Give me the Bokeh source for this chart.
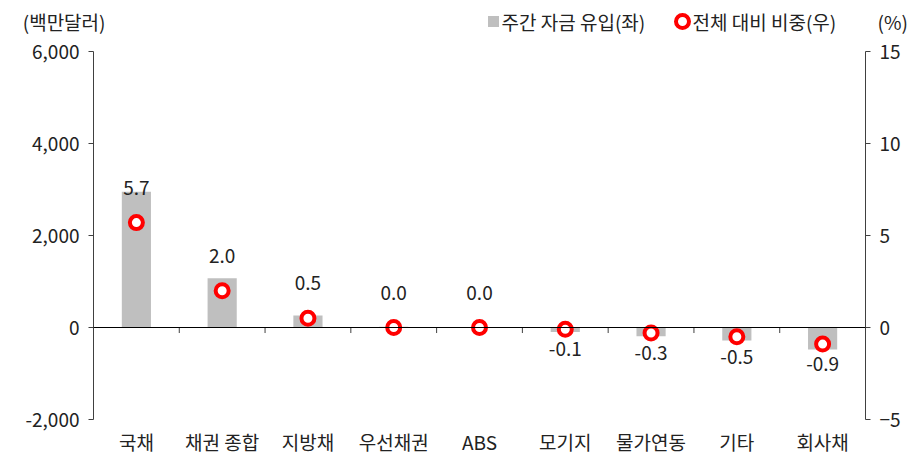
from bokeh.plotting import figure
from bokeh.models import (Range1d, LinearAxis, FixedTicker, NumeralTickFormatter, Span,
                          ColumnDataSource)
from bokeh.layouts import column
from bokeh.core.properties import value
from bokeh.embed import file_html
from bokeh.resources import INLINE

categories = ["국채", "채권 종합", "지방채", "우선채권", "ABS", "모기지", "물가연동", "기타", "회사채"]
flows = [2950, 1070, 262, 15, 5, -100, -190, -280, -480]
shares = [5.7, 2.0, 0.5, 0.0, 0.0, -0.1, -0.3, -0.5, -0.9]
left_ticks = [-2000, 0, 2000, 4000, 6000]
right_ticks = [-5, 0, 5, 10, 15]
series_names = ["주간 자금 유입(좌)", "전체 대비 비중(우)"]
left_unit = "(백만달러)"
right_unit = "(%)"

FONT = "Noto Sans CJK KR"
FS = "19px"
TXT = "#222222"
AX = "#404040"
GRAY = "#BFBFBF"
RED = "#FF0000"

n = len(categories)
xs = [i + 0.5 for i in range(n)]
src = ColumnDataSource(dict(x=xs, flow=flows, share=shares))
pos = ColumnDataSource(dict(x=[xs[i] for i in range(n) if shares[i] >= 0],
                            y=[shares[i] for i in range(n) if shares[i] >= 0],
                            lab=["%.1f" % shares[i] for i in range(n) if shares[i] >= 0]))
neg = ColumnDataSource(dict(x=[xs[i] for i in range(n) if shares[i] < 0],
                            y=[shares[i] for i in range(n) if shares[i] < 0],
                            lab=["%.1f" % shares[i] for i in range(n) if shares[i] < 0]))

W = 913
HH = 36
HT = 6           # header top border
TOP = 15
BOT = 44
FRAME_H = 368
L, R = 93, 48

# ---------- header (units + legend); frame is aligned with the main frame ----------
h = figure(width=W, height=HH, output_backend="svg", toolbar_location=None,
           x_range=Range1d(L, W - R), y_range=Range1d(0, HH - HT),
           x_axis_location=None, y_axis_location=None,
           min_border_left=L, min_border_right=R, min_border_top=HT, min_border_bottom=0)
h.grid.visible = False
h.outline_line_color = None


def unit_axis(label, standoff):
    return LinearAxis(ticker=FixedTicker(ticks=[]), axis_label=label,
                      axis_label_orientation="horizontal",
                      axis_label_text_font=FONT, axis_label_text_font_size=FS,
                      axis_label_text_font_style="normal", axis_label_text_color=TXT,
                      axis_label_standoff=standoff,
                      axis_line_color=None, major_tick_line_color=None,
                      minor_tick_line_color=None, major_label_text_font_size="0px")


h.add_layout(unit_axis(left_unit, -12), "left")
h.add_layout(unit_axis(right_unit, 12), "right")

ty = (HH - HT) / 2
h.rect(x=[493], y=[ty], width=11, height=11, fill_color=GRAY, line_color=None)
h.scatter(x=[682], y=[ty], size=13, fill_color="white", line_color=RED, line_width=4)
h.text(x=[501, 692], y=[ty, ty], text=series_names,
       text_font=value(FONT), text_font_size=FS, text_color=TXT,
       text_align="left", text_baseline="middle")

# ---------- main chart ----------
p = figure(width=W, height=TOP + FRAME_H + BOT, output_backend="svg", toolbar_location=None,
           x_range=Range1d(0, n), y_range=Range1d(-2000, 6000),
           min_border_left=L, min_border_right=R, min_border_top=TOP, min_border_bottom=BOT)
p.extra_y_ranges = {"pct": Range1d(-5, 15)}
p.outline_line_color = None
p.grid.visible = False

ya = p.yaxis[0]
ya.ticker = FixedTicker(ticks=left_ticks)
ya.formatter = NumeralTickFormatter(format="0,0")
ra = LinearAxis(y_range_name="pct", ticker=FixedTicker(ticks=right_ticks))
p.add_layout(ra, "right")
for ax in (ya, ra):
    ax.axis_line_color = AX
    ax.major_tick_line_color = AX
    ax.major_tick_out = 5
    ax.major_tick_in = 0
    ax.minor_tick_line_color = None
    ax.major_label_text_font = FONT
    ax.major_label_text_font_size = FS
    ax.major_label_text_color = TXT
    ax.major_label_standoff = 9

xa = p.xaxis[0]
xa.ticker = FixedTicker(ticks=xs)
xa.major_label_overrides = {x: c for x, c in zip(xs, categories)}
xa.axis_line_color = None
xa.major_tick_line_color = None
xa.minor_tick_line_color = None
xa.major_label_text_font = FONT
xa.major_label_text_font_size = FS
xa.major_label_text_color = TXT
xa.major_label_standoff = 2

p.vbar(x="x", top="flow", width=0.34, bottom=0, source=src,
       fill_color=GRAY, line_color=None)

p.add_layout(Span(location=0, dimension="width", line_color="#000000", line_width=1))
bounds = list(range(1, n))
p.segment(x0=bounds, x1=bounds, y0=[0] * len(bounds), y1=[-120] * len(bounds),
          line_color=AX, line_width=1)

p.scatter(x="x", y="share", source=src, y_range_name="pct", size=13,
          fill_color="white", line_color=RED, line_width=4)

p.text(x="x", y="y", text="lab", source=pos, y_range_name="pct",
       text_font=value(FONT), text_font_size=FS, text_color=TXT,
       text_align="center", text_baseline="bottom", y_offset=-28)
p.text(x="x", y="y", text="lab", source=neg, y_range_name="pct",
       text_font=value(FONT), text_font_size=FS, text_color=TXT,
       text_align="center", text_baseline="top", y_offset=13)

layout = column(h, p, spacing=0)
open("out.html", "w").write(file_html(layout, INLINE))
